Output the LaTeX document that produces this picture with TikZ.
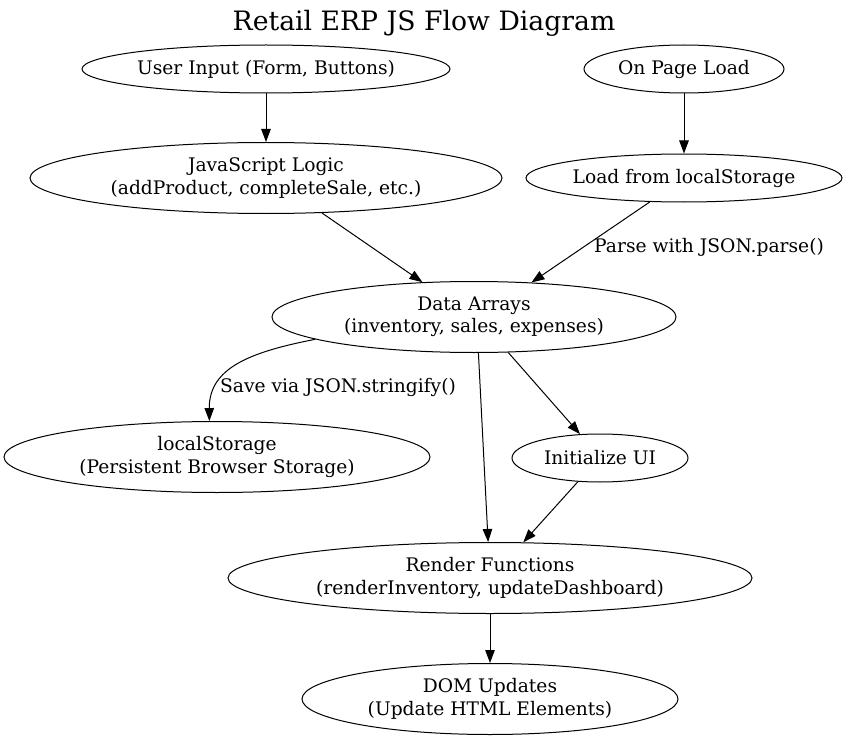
\documentclass[tikz,border=0pt]{standalone}
\usepackage{fontspec}
\setmainfont{DejaVu Serif}
\usetikzlibrary{shapes.geometric,arrows.meta}
\begin{document}
\begin{tikzpicture}[x=1pt,y=-1pt,
  box/.style={ellipse,draw,line width=1pt,inner sep=0pt,align=center,
    font=\fontsize{18.67}{22.4}\selectfont},
  one/.style={box,minimum height=48pt},
  two/.style={box,minimum height=71pt},
  lbl/.style={font=\fontsize{18.67}{22.4}\selectfont,inner sep=0pt},
  arr/.style={line width=1pt,-{Triangle[length=13pt,width=9.5pt]}}]
\useasboundingbox (0,0) rectangle (849,741);
\node[font=\fontsize{26.67}{32}\selectfont,anchor=base,inner sep=0pt] (title) at (424,31) {Retail ERP JS Flow Diagram};
\node[one,minimum width=368pt] (ui) at (266,69) {User Input (Form, Buttons)};
\node[one,minimum width=200pt] (opl) at (684,69) {On Page Load};
\node[two,minimum width=472pt] (js) at (266,178) {JavaScript Logic\\(addProduct, completeSale, etc.)};
\node[one,minimum width=316pt] (load) at (684,178) {Load from localStorage};
\node[two,minimum width=404pt] (da) at (474,317) {Data Arrays\\(inventory, sales, expenses)};
\node[two,minimum width=426pt] (ls) at (217,457) {localStorage\\(Persistent Browser Storage)};
\node[one,minimum width=176pt] (init) at (600,458) {Initialize UI};
\node[two,minimum width=524pt] (render) at (490,578) {Render Functions\\(renderInventory, updateDashboard)};
\node[two,minimum width=376pt] (dom) at (490,699) {DOM Updates\\(Update HTML Elements)};

\draw[arr] (ui) -- (js);
\draw[arr] (opl) -- (load);
\draw[arr] (js.-32) -- (da.146);
\draw[arr] (load.215) -- (da.31);
\node[lbl,anchor=west] (lp) at (594,247) {Parse with JSON.parse()};
\draw[arr] (da.188) .. controls (250,352) and (209,368) .. (ls.102);
\node[lbl,anchor=west] (ls2) at (220,387) {Save via JSON.stringify()};
\draw[arr] (da.-83.5) -- (render.93);
\draw[arr] (da.-46) -- (init.130);
\draw[arr] (init.227) -- (render.47.6);
\draw[arr] (render) -- (dom);
\end{tikzpicture}
\end{document}
